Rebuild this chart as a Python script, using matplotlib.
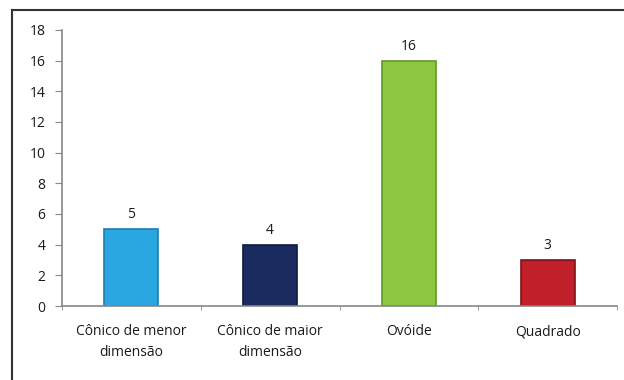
import matplotlib.pyplot as plt
from matplotlib.lines import Line2D

categorias = ['Cônico de menor\ndimensão', 'Cônico de maior\ndimensão', 'Ovóide', 'Quadrado']
valores = [5, 4, 16, 3]
cores = ['#2aa7e1', '#1c2b5f', '#8dc641', '#c1202b']
bordas = ['#1a7fb0', '#0f1a3d', '#5e9a27', '#7e1118']

plt.rcParams['font.family'] = ['Open Sans', 'DejaVu Sans']

fig = plt.figure(figsize=(6.24, 3.8), dpi=100)
ax = fig.add_axes([62 / 624, 1 - 306 / 380, (617 - 62) / 624, (306 - 30) / 380])

x = range(len(categorias))
barras = ax.bar(x, valores, width=0.39, color=cores, edgecolor=bordas, linewidth=1.2)

for b, v in zip(barras, valores):
    ax.text(b.get_x() + b.get_width() / 2, v + 0.45, str(v), ha='center', va='bottom',
            fontsize=10, color='#1a1a1a')

ax.set_xlim(-0.5, len(categorias) - 0.5)
ax.set_ylim(0, 18)
ax.set_yticks(range(0, 19, 2))
ax.set_xticks(x)
ax.set_xticklabels(categorias, fontsize=10, color='#1a1a1a', linespacing=1.5)
ax.tick_params(axis='y', labelsize=10, colors='#1a1a1a', length=5, color='#888888', pad=7)
ax.tick_params(axis='x', length=0, pad=13)
# marcas entre categorias
ax.set_xticks([i + 0.5 for i in range(-1, len(categorias))], minor=True)
ax.tick_params(axis='x', which='minor', length=3, color='#888888')

for lado in ['top', 'right']:
    ax.spines[lado].set_visible(False)
for lado in ['left', 'bottom']:
    ax.spines[lado].set_color('#888888')
    ax.spines[lado].set_linewidth(1.2)

# moldura (só topo e esquerda visíveis)
fig.add_artist(Line2D([12 / 624, 1], [1 - 10 / 380, 1 - 10 / 380], color='#333333', linewidth=1.5))
fig.add_artist(Line2D([12 / 624, 12 / 624], [0, 1 - 10 / 380], color='#333333', linewidth=1.5))

fig.savefig('out.png', dpi=100)
